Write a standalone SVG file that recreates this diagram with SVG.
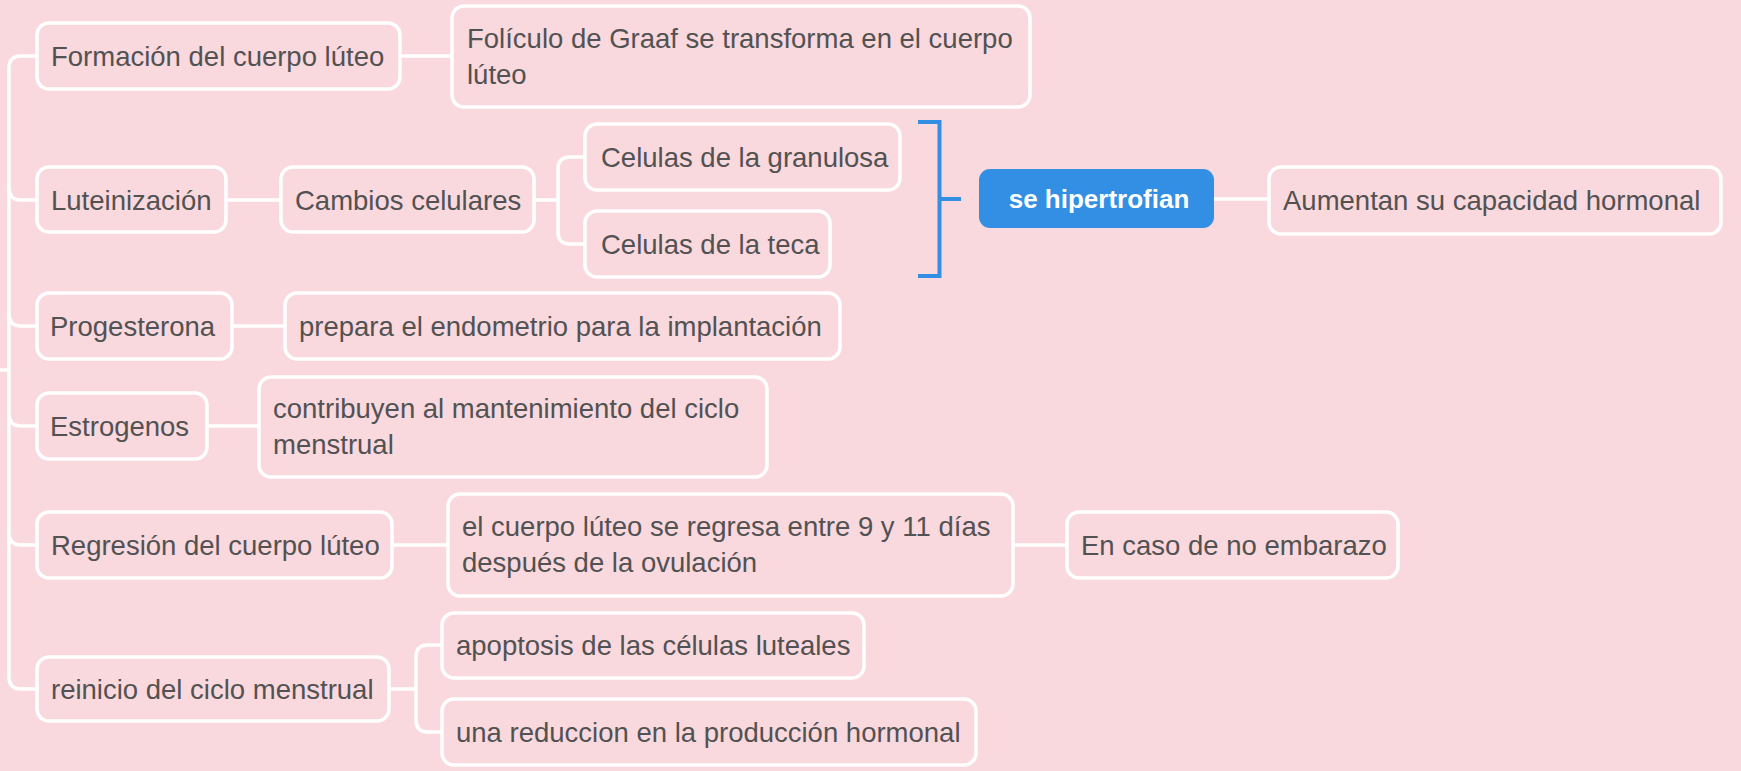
<svg xmlns="http://www.w3.org/2000/svg" width="1741" height="771" viewBox="0 0 1741 771">
<style>
.bg{fill:#f9d8de}
.box{fill:#f9d8de;stroke:#ffffff;stroke-width:3.5}
.t{font-family:"Liberation Sans",Arial,sans-serif;font-size:27.5px;fill:#525252}
.tw{font-family:"Liberation Sans",Arial,sans-serif;font-size:26px;font-weight:bold;fill:#ffffff}
.c{fill:none;stroke:#ffffff;stroke-width:3.5}
.br{fill:none;stroke:#338fe3;stroke-width:4}
</style>
<rect class="bg" x="0" y="0" width="1741" height="771"/>
<g id="connectors">
<path class="c" d="M0,370 H9"/>
<path class="c" d="M37,56 H21 Q9,56 9,68 V677 Q9,689 21,689 H37"/>
<path class="c" d="M9,188 Q9,200 21,200 H37"/>
<path class="c" d="M9,314 Q9,326 21,326 H37"/>
<path class="c" d="M9,414 Q9,426 21,426 H37"/>
<path class="c" d="M9,533 Q9,545 21,545 H37"/>
<path class="c" d="M400,56 H452"/>
<path class="c" d="M226,200 H281"/>
<path class="c" d="M534,200 H558"/>
<path class="c" d="M585,157 H570 Q558,157 558,169 V232 Q558,244 570,244 H585"/>
<path class="br" d="M918,122 H939.5 V276 H918 M939.5,199 H961"/>
<path class="c" d="M1214,199 H1269"/>
<path class="c" d="M232,326 H285"/>
<path class="c" d="M207,426 H259"/>
<path class="c" d="M392,545 H448"/>
<path class="c" d="M1013,545 H1067"/>
<path class="c" d="M389,689 H416"/>
<path class="c" d="M442,645 H428 Q416,645 416,657 V720 Q416,732 428,732 H442"/>
</g>
<g id="n-formacion"><rect class="box" x="37" y="23" width="363" height="66" rx="12"/><text class="t" x="51" y="65.5">Formación del cuerpo lúteo</text></g>
<g id="n-foliculo"><rect class="box" x="452" y="6" width="578" height="101" rx="12"/><text class="t" x="467" y="47.5">Folículo de Graaf se transforma en el cuerpo</text><text class="t" x="467" y="83.5">lúteo</text></g>
<g id="n-luteinizacion"><rect class="box" x="37" y="167" width="189" height="65" rx="12"/><text class="t" x="51" y="209.5">Luteinización</text></g>
<g id="n-cambios"><rect class="box" x="281" y="167" width="253" height="65" rx="12"/><text class="t" x="295" y="209.5">Cambios celulares</text></g>
<g id="n-granulosa"><rect class="box" x="585" y="124" width="315" height="66" rx="12"/><text class="t" x="601" y="166.5">Celulas de la granulosa</text></g>
<g id="n-teca"><rect class="box" x="585" y="211" width="245" height="66" rx="12"/><text class="t" x="601" y="253.5">Celulas de la teca</text></g>
<g id="n-hipertrofian"><rect x="979" y="169" width="235" height="59" rx="11" fill="#338fe3"/><text class="tw" x="1099" y="208" text-anchor="middle">se hipertrofian</text></g>
<g id="n-aumentan"><rect class="box" x="1269" y="167" width="452" height="67" rx="12"/><text class="t" x="1283" y="209.5">Aumentan su capacidad hormonal</text></g>
<g id="n-progesterona"><rect class="box" x="37" y="293" width="195" height="66" rx="12"/><text class="t" x="50" y="335.5">Progesterona</text></g>
<g id="n-prepara"><rect class="box" x="285" y="293" width="555" height="66" rx="12"/><text class="t" x="299" y="335.5">prepara el endometrio para la implantación</text></g>
<g id="n-estrogenos"><rect class="box" x="37" y="393" width="170" height="66" rx="12"/><text class="t" x="50" y="435.5">Estrogenos</text></g>
<g id="n-contribuyen"><rect class="box" x="259" y="377" width="508" height="100" rx="12"/><text class="t" x="273" y="418">contribuyen al mantenimiento del ciclo</text><text class="t" x="273" y="454">menstrual</text></g>
<g id="n-regresion"><rect class="box" x="37" y="512" width="355" height="66" rx="12"/><text class="t" x="51" y="554.5">Regresión del cuerpo lúteo</text></g>
<g id="n-elcuerpo"><rect class="box" x="448" y="494" width="565" height="102" rx="12"/><text class="t" x="462" y="536">el cuerpo lúteo se regresa entre 9 y 11 días</text><text class="t" x="462" y="572">después de la ovulación</text></g>
<g id="n-encaso"><rect class="box" x="1067" y="512" width="331" height="66" rx="12"/><text class="t" x="1081" y="554.5">En caso de no embarazo</text></g>
<g id="n-reinicio"><rect class="box" x="37" y="657" width="352" height="64" rx="12"/><text class="t" x="51" y="698.5">reinicio del ciclo menstrual</text></g>
<g id="n-apoptosis"><rect class="box" x="442" y="613" width="422" height="65" rx="12"/><text class="t" x="456" y="654.5">apoptosis de las células luteales</text></g>
<g id="n-reduccion"><rect class="box" x="442" y="699" width="534" height="66" rx="12"/><text class="t" x="456" y="741.5">una reduccion en la producción hormonal</text></g>
</svg>
